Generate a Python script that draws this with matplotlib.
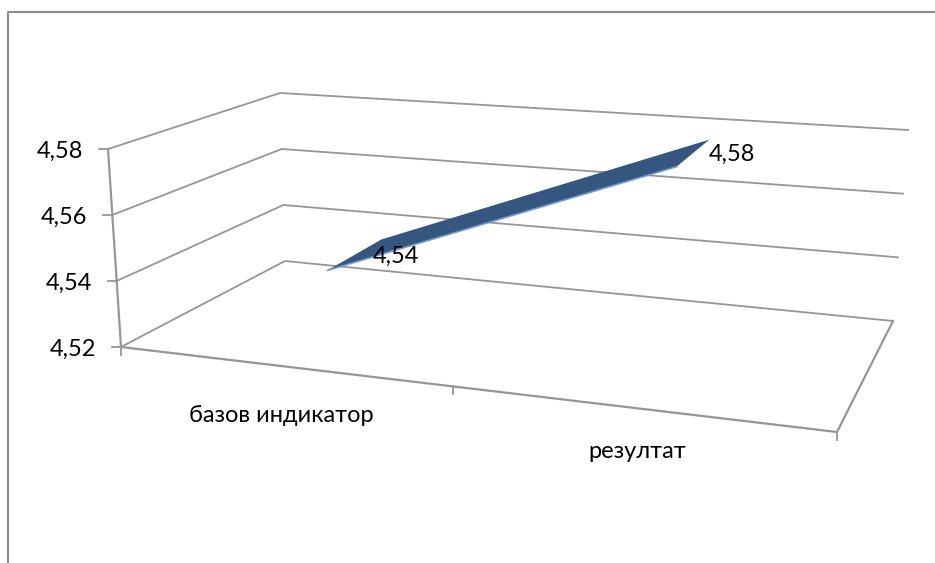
import numpy as np
import matplotlib.pyplot as plt

plt.rcParams['font.family'] = ['Lato', 'Open Sans', 'DejaVu Sans']

categories = ['базов индикатор', 'резултат']
values = [4.54, 4.58]
value_labels = ['4,54', '4,58']
y_ticks = [4.52, 4.54, 4.56, 4.58]
y_tick_labels = ['4,52', '4,54', '4,56', '4,58']

# corners of the 3D box as they sit on the image: [front, back] for left and right
floor_left = np.array([[121, 347], [285, 261]], dtype=float)
floor_right = np.array([[837, 432], [893, 321]], dtype=float)
top_left = np.array([[108, 149], [280, 93]], dtype=float)
top_right = np.array([[855, 207], [908, 130]], dtype=float)
persp = 1.155  # far end of the x axis is squeezed a bit


def project(u, w, v):
    # u = along the categories 0-1, w = depth 0-1, v = value
    t = u / (u + (1 - u) * persp)
    h = (v - y_ticks[0]) / (y_ticks[-1] - y_ticks[0])
    bottom_front = floor_left[0] + t * (floor_right[0] - floor_left[0])
    bottom_back = floor_left[1] + t * (floor_right[1] - floor_left[1])
    upper_front = top_left[0] + t * (top_right[0] - top_left[0])
    upper_back = top_left[1] + t * (top_right[1] - top_left[1])
    bottom = bottom_front + w * (bottom_back - bottom_front)
    upper = upper_front + w * (upper_back - upper_front)
    return bottom + h * (upper - bottom)


fig = plt.figure(figsize=(9.35, 5.63), dpi=100)
ax = fig.add_axes([0, 0, 1, 1])
ax.set_xlim(0, 935)
ax.set_ylim(563, 0)
ax.axis('off')

grey = '#969696'

# chart frame, only top and left show in the crop
ax.plot([8, 8, 935], [563, 12, 12], color='#8a8a8a', lw=1.5)

# gridlines: back wall and side wall
for v in y_ticks:
    p0 = project(0, 0, v)
    p1 = project(0, 1, v)
    p2 = project(1, 1, v)
    ax.plot([p0[0], p1[0], p2[0]], [p0[1], p1[1], p2[1]], color=grey, lw=1.3)

# floor and value axis
corners = [project(0, 0, y_ticks[0]), project(1, 0, y_ticks[0]), project(1, 1, y_ticks[0])]
ax.plot([c[0] for c in corners], [c[1] for c in corners], color=grey, lw=1.6)
a = project(0, 0, y_ticks[0])
b = project(0, 0, y_ticks[-1])
ax.plot([a[0], b[0]], [a[1], b[1]], color=grey, lw=1.6)

# ticks and labels on the value axis
for v, lab in zip(y_ticks, y_tick_labels):
    p = project(0, 0, v)
    ax.plot([p[0] - 9, p[0]], [p[1], p[1]], color=grey, lw=1.3)
    ax.text(p[0] - 25, p[1] + 2, lab, ha='right', va='center', fontsize=17, color='black')

# ticks on the category axis
for u in [0, 0.5, 1]:
    p = project(u, 0, y_ticks[0])
    ax.plot([p[0], p[0]], [p[1], p[1] + 8], color=grey, lw=1.3)

# the ribbon between the two categories
n = len(values)
us = [(i + 0.5) / n for i in range(n)]
front = [project(u, 0.34, v) for u, v in zip(us, values)]
back = [project(u, 0.72, v) for u, v in zip(us, values)]
poly = [front[0], back[0], back[1], front[1]]
ax.fill([p[0] for p in poly], [p[1] for p in poly], facecolor='#35567f', edgecolor='none', zorder=3)
ax.plot([front[0][0], front[1][0]], [front[0][1], front[1][1]], color='#6f9bd1', lw=1.2, zorder=3)

# value labels
label_pos = [(396, 256), (732, 154)]
for (x, y), lab in zip(label_pos, value_labels):
    ax.text(x, y, lab, ha='center', va='center', fontsize=17, color='black', zorder=4)

# category labels
cat_pos = [(281, 415), (637, 451)]
for (x, y), lab in zip(cat_pos, categories):
    ax.text(x, y, lab, ha='center', va='center', fontsize=17, color='black')

fig.savefig('out.png', dpi=100)
